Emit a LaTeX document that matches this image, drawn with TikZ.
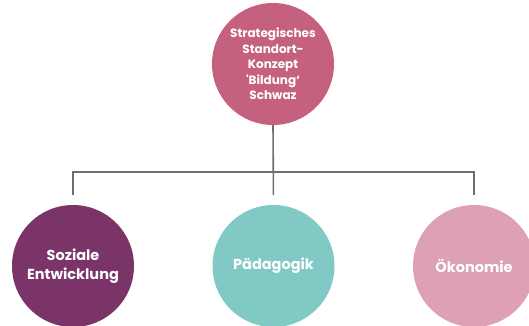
\documentclass[tikz,border=0pt]{standalone}
\usepackage{fontspec}
\setmainfont{Poppins}
\usetikzlibrary{calc}
\definecolor{cTop}{HTML}{C6607F}
\definecolor{cSoz}{HTML}{7A3468}
\definecolor{cPaed}{HTML}{80C9C4}
\definecolor{cOek}{HTML}{DDA0B4}
\definecolor{cLine}{HTML}{6E6E6A}
\tikzset{
  bubble/.style={circle, minimum size=122pt, inner sep=0pt, text=white,
    align=center},
  toptext/.style={font=\bfseries\fontsize{12}{15.5}\selectfont},
  subtext/.style={font=\bfseries\fontsize{14.5}{18.5}\selectfont},
  conn/.style={draw=cLine, line width=1.6pt}
}
\begin{document}
\begin{tikzpicture}[x=1pt,y=1pt]
  \useasboundingbox (0,0) rectangle (529,325);
  % top-level circle and its three branches
  \node[bubble, toptext, fill=cTop] (top) at (273,261)
    {Strategisches\\Standort-\\Konzept\\\textquotesingle Bildung‘\\Schwaz};
  \node[bubble, subtext, fill=cSoz] (soz) at (73,59) {Soziale\\Entwicklung};
  \node[bubble, subtext, fill=cPaed] (paed) at (273.5,59) {Pädagogik};
  \node[bubble, subtext, fill=cOek] (oek) at (474,59) {Ökonomie};
  % bus line joining the branches
  \coordinate (bus) at (273,153);
  \draw[conn, shorten >=10pt] (top.south) -- (paed.north);
  \draw[conn, shorten <=10pt, shorten >=10pt] (soz.north) |- (bus) -| (oek.north);
\end{tikzpicture}
\end{document}
